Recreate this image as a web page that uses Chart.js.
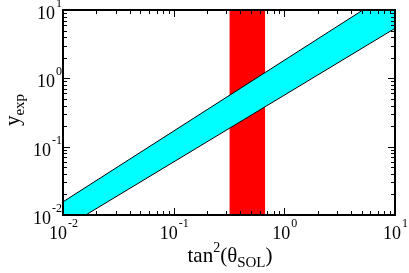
<!DOCTYPE html>
<html>
<head>
<meta charset="utf-8">
<script src="https://cdn.jsdelivr.net/npm/chart.js@4.4.0/dist/chart.umd.min.js"></script>
<style>
  body { margin: 0; background: #fff; }
  #wrap { width: 409px; height: 273px; }
</style>
</head>
<body>
<div id="wrap"><canvas id="chart" width="409" height="273"></canvas></div>
<script>
// Axis ranges (log decades)
const xDecades = [-2, -1, 0, 1];
const yDecades = [-2, -1, 0, 1];

// Cyan band: upper and lower edges (ends run past the frame)
const bandX = [0.005, 20];
const upperY = [0.0076, 41];
const lowerY = [0.0032, 10.6];

// Red vertical band in tan^2(theta)
const redX = [0.32, 0.67];
const redY = [0.001, 100];

// build closed polygons from the arrays
const bandPoly = [
    { x: bandX[0], y: upperY[0] },
    { x: bandX[1], y: upperY[1] },
    { x: bandX[1], y: lowerY[1] },
    { x: bandX[0], y: lowerY[0] },
    { x: bandX[0], y: upperY[0] }
];
const redPoly = [
    { x: redX[0], y: redY[0] },
    { x: redX[0], y: redY[1] },
    { x: redX[1], y: redY[1] },
    { x: redX[1], y: redY[0] },
    { x: redX[0], y: redY[0] }
];

const SERIF = '"Liberation Serif", "Times New Roman", serif';

// draw "10" with a raised exponent
function drawPow(ctx, exp, x, y, align) {
    ctx.font = '18px ' + SERIF;
    const w1 = ctx.measureText('10').width;
    ctx.font = '12px ' + SERIF;
    const w2 = ctx.measureText(String(exp)).width;
    let start = x;
    if (align === 'center') start = x - (w1 + w2) / 2;
    if (align === 'right') start = x - (w1 + w2);
    ctx.textAlign = 'left';
    ctx.textBaseline = 'alphabetic';
    ctx.font = '18px ' + SERIF;
    ctx.fillText('10', start, y);
    ctx.font = '12px ' + SERIF;
    ctx.fillText(String(exp), start + w1 + 1, y - 12);
}

const frame = {
    id: 'frame',
    afterDatasetsDraw(chart) {
        const ctx = chart.ctx;
        const a = chart.chartArea;
        const xs = chart.scales.x;
        const ys = chart.scales.y;
        ctx.save();
        ctx.fillStyle = '#000';
        ctx.strokeStyle = '#000';

        // inward ticks on all four sides
        ctx.lineWidth = 1;
        ctx.beginPath();
        for (let d = xDecades[0]; d < xDecades[xDecades.length - 1]; d++) {
            for (let m = 1; m <= 9; m++) {
                const px = Math.round(xs.getPixelForValue(m * Math.pow(10, d))) + 0.5;
                const len = m === 1 ? 7 : 4;
                ctx.moveTo(px, a.bottom); ctx.lineTo(px, a.bottom - len);
                ctx.moveTo(px, a.top); ctx.lineTo(px, a.top + len);
            }
        }
        for (let d = yDecades[0]; d < yDecades[yDecades.length - 1]; d++) {
            for (let m = 1; m <= 9; m++) {
                const py = Math.round(ys.getPixelForValue(m * Math.pow(10, d))) + 0.5;
                const len = m === 1 ? 7 : 4;
                ctx.moveTo(a.left, py); ctx.lineTo(a.left + len, py);
                ctx.moveTo(a.right, py); ctx.lineTo(a.right - len, py);
            }
        }
        ctx.stroke();

        // box
        ctx.lineWidth = 2;
        ctx.strokeRect(a.left, a.top, a.right - a.left, a.bottom - a.top);

        // tick labels
        xDecades.forEach(d => {
            drawPow(ctx, d, xs.getPixelForValue(Math.pow(10, d)), a.bottom + 24, 'center');
        });
        yDecades.forEach(d => {
            drawPow(ctx, d, a.left - 2, ys.getPixelForValue(Math.pow(10, d)) + 9, 'right');
        });

        // x title: tan^2(theta_SOL)
        const parts = [
            ['tan', 21, 0], ['2', 14, -10], ['(\u03B8', 21, 0], ['SOL', 15, 5], [')', 21, 0]
        ];
        let total = 0;
        parts.forEach(p => { ctx.font = p[1] + 'px ' + SERIF; total += ctx.measureText(p[0]).width; });
        let cx = 230 - total / 2;
        ctx.textAlign = 'left';
        parts.forEach(p => {
            ctx.font = p[1] + 'px ' + SERIF;
            ctx.fillText(p[0], cx, 262 + p[2]);
            cx += ctx.measureText(p[0]).width;
        });

        // y title: y_exp (rotated)
        ctx.translate(19, 110);
        ctx.rotate(-Math.PI / 2);
        ctx.font = '21px ' + SERIF;
        const wy = ctx.measureText('y').width;
        ctx.font = '15px ' + SERIF;
        const we = ctx.measureText('exp').width;
        let sx = -(wy + we) / 2;
        ctx.font = '21px ' + SERIF;
        ctx.fillText('y', sx, 0);
        ctx.font = '15px ' + SERIF;
        ctx.fillText('exp', sx + wy, 5);
        ctx.restore();
    }
};

new Chart(document.getElementById('chart'), {
    type: 'scatter',
    data: {
        datasets: [
            {
                // band outline, upper edge
                data: bandX.map((x, i) => ({ x, y: upperY[i] })),
                showLine: true, borderColor: '#000', borderWidth: 1,
                pointRadius: 0, fill: false, order: 0
            },
            {
                // band outline, lower edge
                data: bandX.map((x, i) => ({ x, y: lowerY[i] })),
                showLine: true, borderColor: '#000', borderWidth: 1,
                pointRadius: 0, fill: false, order: 0
            },
            {
                data: bandPoly, showLine: true, borderWidth: 0, borderColor: 'rgba(0,0,0,0)',
                backgroundColor: '#00FFFF', pointRadius: 0, fill: 'shape', order: 1
            },
            {
                data: redPoly, showLine: true, borderWidth: 0, borderColor: 'rgba(0,0,0,0)',
                backgroundColor: '#FF0000', pointRadius: 0, fill: 'shape', order: 2
            }
        ]
    },
    options: {
        responsive: false,
        animation: false,
        events: [],
        layout: { padding: { left: 63, right: 14, top: 10, bottom: 58 } },
        plugins: { legend: { display: false }, tooltip: { enabled: false } },
        scales: {
            x: { type: 'logarithmic', display: false, min: 0.01, max: 10 },
            y: { type: 'logarithmic', display: false, min: 0.01, max: 10 }
        }
    },
    plugins: [frame]
});
</script>
</body>
</html>
